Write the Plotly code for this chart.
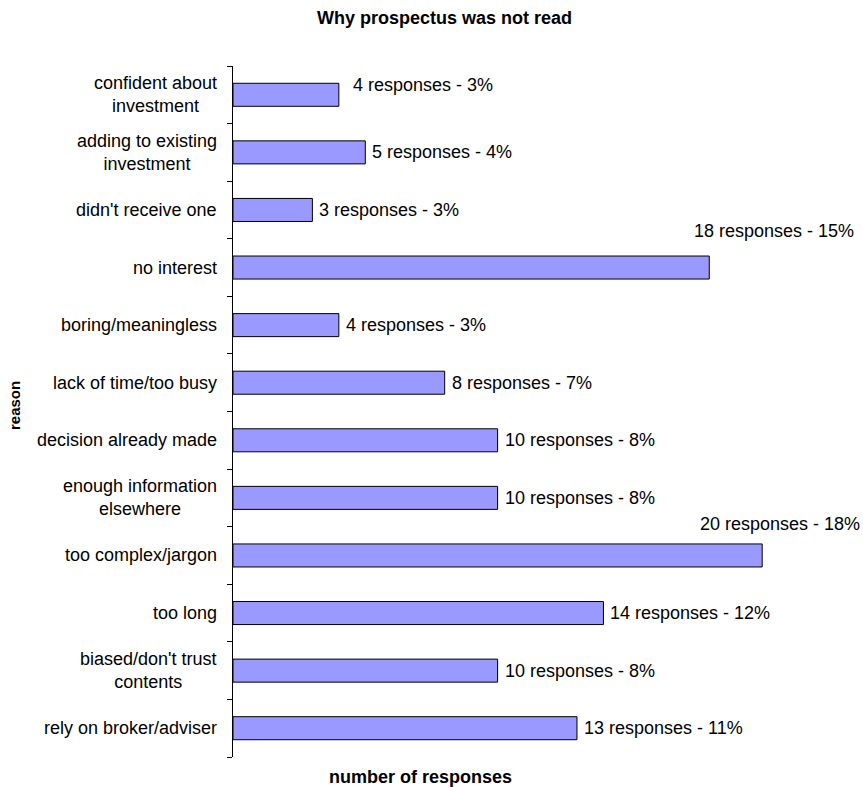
import plotly.graph_objects as go

categories = [
    "confident about<br>investment",
    "adding to existing<br>investment",
    "didn't receive one",
    "no interest",
    "boring/meaningless",
    "lack of time/too busy",
    "decision already made",
    "enough information<br>elsewhere",
    "too complex/jargon",
    "too long",
    "biased/don't trust<br>contents",
    "rely on broker/adviser",
]
responses = [4, 5, 3, 18, 4, 8, 10, 10, 20, 14, 10, 13]
percents = [3, 4, 3, 15, 3, 7, 8, 8, 18, 12, 8, 11]

title_text = "Why prospectus was not read"
x_title = "number of responses"
y_title = "reason"

FONT = "Liberation Sans, Arial, sans-serif"
W, H = 863, 787
L = 233
T = 66
B = H - 757
R = W - 842
PX_PER_UNIT = 26.46
plot_w = W - L - R
plot_h = H - T - B
xmax = plot_w / PX_PER_UNIT

# label placement tweaks (mimicking the original's collision-avoidance), keyed by row
label_adjust = {0: (12, 10), 3: (-17, 37), 8: (-64, 31)}

fig = go.Figure()
fig.add_trace(go.Bar(
    x=responses,
    y=list(range(len(categories))),
    orientation="h",
    width=0.4,
    marker=dict(color="#9999FF", line=dict(color="#000000", width=1)),
    hoverinfo="skip",
))

annotations = []
for i, (cat, n, p) in enumerate(zip(categories, responses, percents)):
    annotations.append(dict(
        x=0, xref="paper", y=i, yref="y",
        text=cat, showarrow=False, xanchor="right", yanchor="middle",
        align="center", xshift=-14,
        font=dict(family=FONT, size=18, color="#000000"),
    ))
    dx, dy = label_adjust.get(i, (5, 0))
    annotations.append(dict(
        x=n, xref="x", y=i, yref="y",
        text=f"{n} responses - {p}%", showarrow=False,
        xanchor="left", yanchor="middle", xshift=dx, yshift=dy,
        font=dict(family=FONT, size=18, color="#000000"),
    ))

annotations.append(dict(
    x=(444 - L) / plot_w, xref="paper", y=1, yref="paper", yshift=(66 - 18),
    text=f"<b>{title_text}</b>", showarrow=False, xanchor="center", yanchor="middle",
    font=dict(family=FONT, size=18, color="#000000"),
))
annotations.append(dict(
    x=(420 - L) / plot_w, xref="paper", y=0, yref="paper", yshift=-(777 - 757),
    text=f"<b>{x_title}</b>", showarrow=False, xanchor="center", yanchor="middle",
    font=dict(family=FONT, size=18, color="#000000"),
))
annotations.append(dict(
    x=0, xref="paper", xshift=-(233 - 14), y=(757 - 406) / plot_h, yref="paper",
    text=f"<b>{y_title}</b>", showarrow=False, xanchor="center", yanchor="middle",
    textangle=-90,
    font=dict(family=FONT, size=15, color="#000000"),
))

fig.update_layout(
    width=W, height=H,
    margin=dict(l=L, r=R, t=T, b=B),
    paper_bgcolor="white", plot_bgcolor="white",
    showlegend=False,
    annotations=annotations,
    xaxis=dict(range=[0, xmax], visible=False, fixedrange=True),
    yaxis=dict(
        type="category",
        tickmode="array", tickvals=list(range(len(categories))), ticktext=[""] * len(categories),
        range=[len(categories) - 0.5, -0.5],
        showline=True, linecolor="#000000", linewidth=1,
        ticks="outside", ticklen=5, tickcolor="#000000",
        tickson="boundaries",
        showgrid=False, zeroline=False, showticklabels=False,
        fixedrange=True,
    ),
)

fig.write_html(
    "out.html",
    config={"displayModeBar": False, "staticPlot": True},
    post_script="document.body.style.margin='0';document.body.style.overflow='hidden';",
)
